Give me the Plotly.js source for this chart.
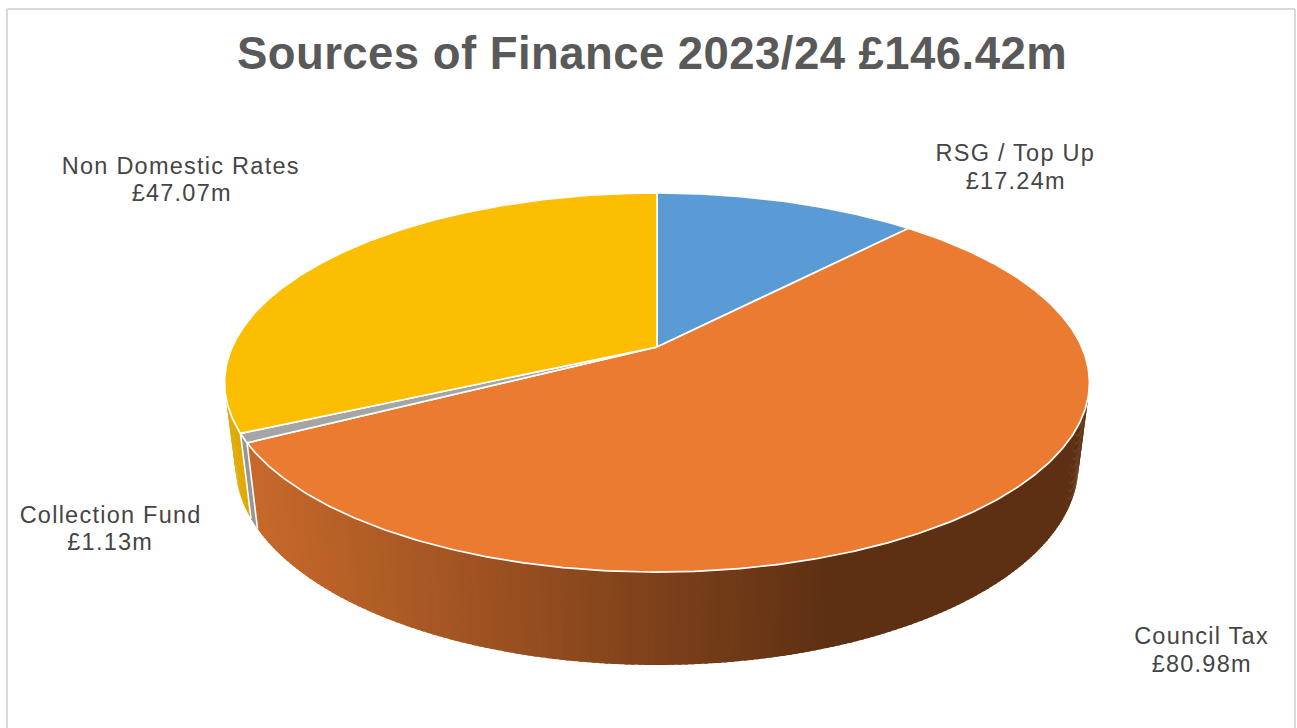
<!DOCTYPE html>
<html>
<head>
<meta charset="utf-8">
<script src="https://cdn.plot.ly/plotly-3.0.1.min.js"></script>
<style>
html,body{margin:0;padding:0;background:#fff;overflow:hidden}
#chart{width:1297px;height:728px}
#chart .annotation-text{letter-spacing:1.25px}
#chart .gtitle{letter-spacing:0.45px}
</style>
</head>
<body>
<div id="chart"></div>
<script>
// ---- data ----
const chartTitle = 'Sources of Finance 2023/24 £146.42m';
const categories = ['RSG / Top Up', 'Council Tax', 'Collection Fund', 'Non Domestic Rates'];
const values = [17.24, 80.98, 1.13, 47.07];
const valueLabels = ['£17.24m', '£80.98m', '£1.13m', '£47.07m'];

// ---- styles ----
const topColors = ['#5B9BD5', '#EA7B31', '#A5A5A5', '#FBBE00'];
const sideDark = {1: [94, 48, 19]};
const sideLight = {1: [200, 105, 43]};
const sideFlat = {2: [150, 150, 150], 3: [224, 168, 0]};
const labelColor = '#454545';
const titleColor = '#595959';

// ---- layout of the label text, in page pixels ----
const labelCentreX = [1015, 1201, 110, 181];
const labelNameY = [153, 636, 515, 166];
const labelValueY = [181, 664, 542, 193];
const labelSize = 23.5;

// ---- perspective model of the tilted disc ----
const topDisc = {cx: 657, cy: 347, a: 424.8, b: 182.9, k: 0.1873};
const baseDisc = {cx: 657, cy: 427.5, a: 414, b: 193, k: 0.1873};
function project(disc, deg) {
  const r = deg * Math.PI / 180, u = Math.sin(r), v = Math.cos(r), d = 1 + disc.k * v;
  return [disc.cx + disc.a * u / d, disc.cy - disc.b * v / d];
}

const total = values.reduce((s, v) => s + v, 0);
const edges = [0];
values.forEach(v => edges.push(edges[edges.length - 1] + v / total * 360));

const traces = [];
const viewFrom = 100, viewTo = 260, step = 0.75, overlap = 0.4;

function sideColor(i, x) {
  if (sideFlat[i]) return 'rgb(' + sideFlat[i].join(',') + ')';
  const f = Math.max(0, Math.min(1, (x - 250) / (826 - 250)));
  const c = sideLight[i].map((l, j) => Math.round(l + (sideDark[i][j] - l) * f));
  return 'rgb(' + c.join(',') + ')';
}

// the rim, in thin strips so the shading can change along it;
// each strip runs a little under the next one so no seam shows
categories.forEach((name, i) => {
  const from = Math.max(edges[i], viewFrom), to = Math.min(edges[i + 1], viewTo);
  for (let t = from; t < to; t += step) {
    const e = Math.min(t + step + overlap, viewTo);
    const a = project(topDisc, t), b = project(topDisc, e), c = project(baseDisc, e), d = project(baseDisc, t);
    const col = sideColor(i, (a[0] + b[0] + c[0] + d[0]) / 4);
    traces.push({
      type: 'scatter', mode: 'lines', name: name, showlegend: false, hoverinfo: 'skip',
      x: [a[0], b[0], c[0], d[0], a[0]], y: [a[1], b[1], c[1], d[1], a[1]],
      fill: 'toself', fillcolor: col, line: {color: col, width: 0}
    });
  }
});

// white seams on the rim between slices
[edges[2], edges[3]].forEach(t => {
  const a = project(topDisc, t), b = project(baseDisc, t);
  traces.push({type: 'scatter', mode: 'lines', showlegend: false, hoverinfo: 'skip',
    x: [a[0], b[0]], y: [a[1], b[1]], line: {color: '#ffffff', width: 1.6}});
});

// the top faces
categories.forEach((name, i) => {
  const xs = [topDisc.cx], ys = [topDisc.cy];
  for (let t = edges[i]; t < edges[i + 1]; t += 0.5) {
    const p = project(topDisc, t); xs.push(p[0]); ys.push(p[1]);
  }
  const p = project(topDisc, edges[i + 1]); xs.push(p[0], topDisc.cx); ys.push(p[1], topDisc.cy);
  traces.push({type: 'scatter', mode: 'lines', name: name, showlegend: false, hoverinfo: 'name',
    x: xs, y: ys, fill: 'toself', fillcolor: topColors[i], line: {color: '#ffffff', width: 1.7}});
});

const annotations = [];
categories.forEach((name, i) => {
  [[name, labelNameY[i]], [valueLabels[i], labelValueY[i]]].forEach(([text, y]) => {
    annotations.push({x: labelCentreX[i], y: y, xref: 'x', yref: 'y', text: text, showarrow: false,
      xanchor: 'center', yanchor: 'middle',
      font: {family: 'Liberation Sans, Arial, sans-serif', size: labelSize, color: labelColor}});
  });
});

const borderStyle = {color: '#D9D9D9', width: 2};
const layout = {
  width: 1297, height: 728, margin: {l: 0, r: 0, t: 0, b: 0},
  paper_bgcolor: '#ffffff', plot_bgcolor: '#ffffff', showlegend: false,
  title: {text: chartTitle, x: 652 / 1297, y: 1 - 53 / 728, xanchor: 'center', yanchor: 'middle',
    xref: 'paper', yref: 'paper',
    font: {family: 'Liberation Sans, Arial, sans-serif', size: 45.5, weight: 700, color: titleColor}},
  xaxis: {range: [0, 1297], visible: false, fixedrange: true},
  yaxis: {range: [728, 0], visible: false, fixedrange: true},
  annotations: annotations,
  shapes: [
    {type: 'line', xref: 'x', yref: 'y', x0: 7, x1: 7, y0: 9, y1: 728, line: borderStyle},
    {type: 'line', xref: 'x', yref: 'y', x0: 7, x1: 1295, y0: 9, y1: 9, line: borderStyle},
    {type: 'line', xref: 'x', yref: 'y', x0: 1295, x1: 1295, y0: 9, y1: 728, line: borderStyle}
  ]
};
Plotly.newPlot('chart', traces, layout, {displayModeBar: false, staticPlot: true});
</script>
</body>
</html>
